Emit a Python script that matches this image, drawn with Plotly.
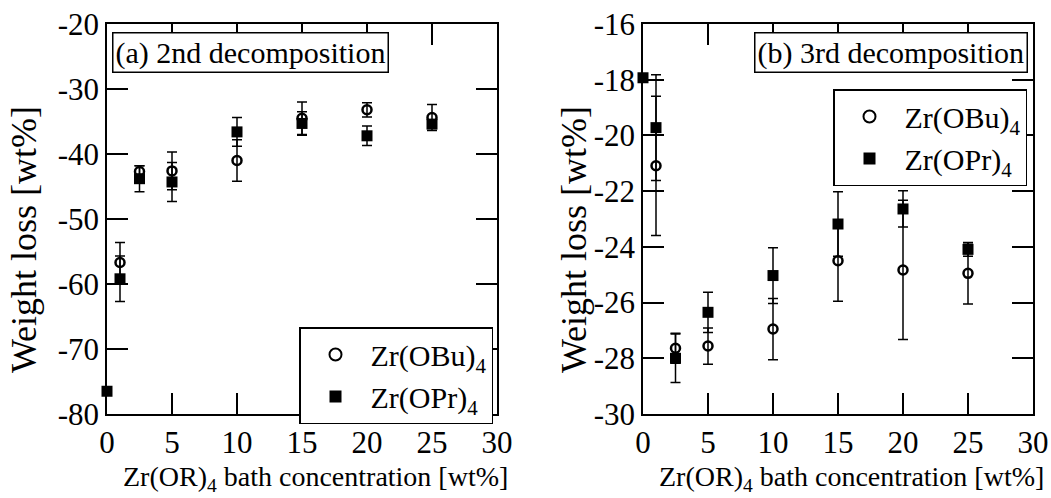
import plotly.graph_objects as go

# ---------- data ----------
# Panel (a): 2nd decomposition
a_bu_x = [1, 2.5, 5, 10, 15, 20, 25]
a_bu_y = [-56.7, -42.7, -42.6, -41.0, -34.5, -33.2, -34.4]
a_bu_err = [3.1, 0.9, 2.9, 3.2, 2.5, 1.1, 2.0]

a_pr_x = [0, 1, 2.5, 5, 10, 15, 20, 25]
a_pr_y = [-76.5, -59.2, -43.8, -44.3, -36.6, -35.3, -37.2, -35.4]
a_pr_err = [0, 3.5, 2.0, 3.0, 2.2, 1.8, 1.5, 0.5]

# Panel (b): 3rd decomposition
b_bu_x = [1, 2.5, 5, 10, 15, 20, 25]
b_bu_y = [-21.09, -27.64, -27.56, -26.95, -24.5, -24.83, -24.95]
b_bu_err = [2.5, 0.54, 0.65, 1.1, 1.45, 2.5, 1.1]

b_pr_x = [0, 1, 2.5, 5, 10, 15, 20, 25]
b_pr_y = [-17.93, -19.72, -28.0, -26.35, -25.03, -23.18, -22.64, -24.09]
b_pr_err = [0, 1.9, 0.87, 0.72, 1.0, 1.16, 0.65, 0.25]

x_ticks = [0, 5, 10, 15, 20, 25, 30]
x_ticktext = ["0", "5", "10", "15", "20", "25", "30"]
a_y_ticks = [-80, -70, -60, -50, -40, -30, -20]
a_y_ticktext = ["-80", "-70", "-60", "-50", "-40", "-30", "-20"]
b_y_ticks = [-30, -28, -26, -24, -22, -20, -18, -16]
b_y_ticktext = ["-30", "-28", "-26", "-24", "-22", "-20", "-18", "-16"]

name_bu = "Zr(OBu)<sub>4</sub>"
name_pr = "Zr(OPr)<sub>4</sub>"
title_a = "(a) 2nd decomposition"
title_b = "(b) 3rd decomposition"
x_title = "Zr(OR)<sub>4</sub> bath concentration [wt%]"
y_title = "Weight loss [wt%]"

FONT = "Liberation Serif"
W, H = 1051, 498

fig = go.Figure()


def err(arr):
    return dict(type="data", array=arr, visible=True, color="black", thickness=1.5, width=5)


def circle_trace(x, y, e, xa, ya, legend):
    return go.Scatter(x=x, y=y, mode="markers", name=name_bu, error_y=err(e),
                      marker=dict(symbol="circle-open", size=9, color="black",
                                  line=dict(width=2.5, color="black")),
                      xaxis=xa, yaxis=ya, legend=legend, cliponaxis=False)


def square_trace(x, y, e, xa, ya, legend):
    return go.Scatter(x=x, y=y, mode="markers", name=name_pr, error_y=err(e),
                      marker=dict(symbol="square", size=11, color="black"),
                      xaxis=xa, yaxis=ya, legend=legend, cliponaxis=False)


fig.add_trace(circle_trace(a_bu_x, a_bu_y, a_bu_err, "x", "y", "legend"))
fig.add_trace(square_trace(a_pr_x, a_pr_y, a_pr_err, "x", "y", "legend"))
fig.add_trace(circle_trace(b_bu_x, b_bu_y, b_bu_err, "x2", "y2", "legend2"))
fig.add_trace(square_trace(b_pr_x, b_pr_y, b_pr_err, "x2", "y2", "legend2"))


def px_x(p):
    return p / W


def px_y(p):
    return (H - p) / H


axis_common = dict(showline=True, linecolor="black", linewidth=1.5, mirror="ticks",
                   ticks="inside", ticklen=21, tickwidth=1.5, tickcolor="black",
                   showgrid=False, zeroline=False, automargin=False,
                   tickfont=dict(family=FONT, size=31, color="black"))

legend_common = dict(xanchor="left", yanchor="top", bgcolor="white", bordercolor="black",
                     borderwidth=1.5, font=dict(family=FONT, size=30, color="black"),
                     itemsizing="constant", itemwidth=60, tracegroupgap=0)

fig.update_layout(
    width=W, height=H,
    margin=dict(l=0, r=0, t=0, b=0),
    paper_bgcolor="white", plot_bgcolor="white",
    font=dict(family=FONT, color="black"),
    xaxis=dict(domain=[px_x(107), px_x(497)], range=[0, 30], tickvals=x_ticks,
               ticktext=x_ticktext, anchor="y", **axis_common),
    yaxis=dict(domain=[px_y(414), px_y(24)], range=[-80, -20], tickvals=a_y_ticks,
               ticktext=a_y_ticktext, anchor="x", **axis_common),
    xaxis2=dict(domain=[px_x(643), px_x(1033)], range=[0, 30], tickvals=x_ticks,
                ticktext=x_ticktext, anchor="y2", **axis_common),
    yaxis2=dict(domain=[px_y(414), px_y(24)], range=[-30, -16], tickvals=b_y_ticks,
                ticktext=b_y_ticktext, anchor="x2", **axis_common),
    legend=dict(x=px_x(299), y=px_y(327), **legend_common),
    legend2=dict(x=px_x(833), y=px_y(89), **legend_common),
    showlegend=True,
)

ann_font = dict(family=FONT, size=30, color="black")
fig.add_annotation(text=title_a, xref="paper", yref="paper", x=px_x(250), y=px_y(53),
                   xanchor="center", yanchor="middle",
                   showarrow=False, font=ann_font, bgcolor="white", bordercolor="black",
                   borderwidth=1.5, borderpad=2)
fig.add_annotation(text=title_b, xref="paper", yref="paper", x=px_x(891), y=px_y(53),
                   xanchor="center", yanchor="middle",
                   showarrow=False, font=ann_font, bgcolor="white", bordercolor="black",
                   borderwidth=1.5, borderpad=2)
for cx in (315, 851):
    fig.add_annotation(text=x_title, xref="paper", yref="paper", x=px_x(cx), y=px_y(478),
                       xanchor="center", yanchor="middle",
                       showarrow=False, font=dict(family=FONT, size=28, color="black"))
for cx in (24, 574):
    fig.add_annotation(text=y_title, xref="paper", yref="paper", x=px_x(cx), y=px_y(240),
                       xanchor="center", yanchor="middle",
                       showarrow=False, textangle=-90, font=dict(family=FONT, size=36, color="black"))

fig.write_html("out.html", config={"displayModeBar": False},
               post_script="document.body.style.margin='0';document.body.style.overflow='hidden';")
